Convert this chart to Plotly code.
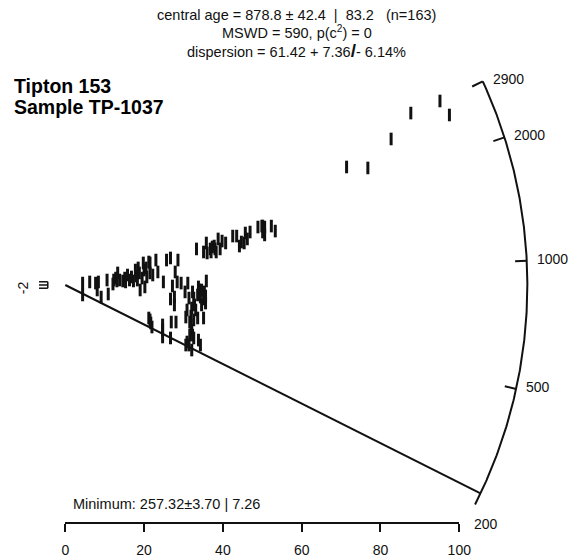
import math
import plotly.graph_objects as go

# ---- Radial plot data: Tipton 153, sample TP-1037 ----
central_age = 878.8
minimum_age = 257.32

# precision (1/sigma) of each grain
precision = [
    4.4, 4.4, 6.2, 7.7, 8.4, 8.1, 9.1, 10.6, 10.9, 12.3, 12.8, 13.3, 13.8, 14.6, 15.1, 15.8, 16.3, 17.3,
    17.8, 18.0, 18.5, 18.3, 19.0, 19.8, 20.0, 20.2, 20.7, 21.2, 21.5, 22.2, 23.0, 23.5, 24.9, 25.7, 26.7,
    27.2, 26.7, 27.7, 27.9, 28.6, 28.4, 29.4, 27.7,
    21.2, 21.7, 22.0, 24.7, 24.7, 26.9, 28.1, 26.7,
    31.1, 32.3, 35.8, 31.4, 32.6, 33.6, 34.3, 35.1, 35.6, 34.6, 30.9, 32.1, 33.1, 30.6, 31.9, 32.6, 33.6,
    35.1, 31.9, 32.1, 31.6, 30.9, 32.6, 33.8, 34.3, 30.6, 32.1, 30.4, 34.1, 35.3,
    33.3, 35.1, 35.8, 36.0, 36.8, 37.3, 37.8, 38.3, 38.8, 39.3, 39.8, 40.7, 42.5, 43.5, 44.2, 44.7, 45.4,
    45.7, 46.2, 46.9, 48.9, 49.9, 50.1, 50.6, 50.6, 52.3, 53.3,
    71.4, 76.8, 82.7, 87.7, 95.1, 97.5,
    13.1, 15.3, 18.8, 19.5, 20.5, 21.5, 33.8, 34.6, 35.6, 32.8, 31.6, 32.3, 31.4, 37.0, 38.0, 50.1, 50.4,
    16.8, 12.1, 24.7, 21.5,
]
# standardised estimate of each grain
std_estimate = [
    1.2, -6.2, 1.9, 1.2, 1.9, -3.1, -7.5, 3.1, -5.6, 3.1, 4.3, 7.5, 3.1, 2.5, 4.3, 6.2, 3.1, 2.5,
    9.3, 5.6, 10.6, 3.1, -3.1, 13.7, 9.3, -1.2, 5.0, 14.3, 7.5, 6.2, 15.5, 8.1, 1.9, 15.5, 16.8,
    -0.6, -8.7, -12.4, 8.1, 15.5, 1.9, 1.2, -7.5,
    -20.5, -23.6, -26.1, -24.8, -32.3, -23.0, -23.0, -32.9,
    1.2, -4.3, 2.5, -8.1, -8.1, -6.2, -7.5, -8.7, -11.2, -12.4, -15.5, -14.3, -15.5, -19.9, -19.3, -21.7, -20.5,
    -20.5, -24.8, -27.9, -31.1, -35.4, -32.9, -34.2, -37.3, -37.3, -40.4, -4.3, -3.1, -4.3,
    22.4, 20.5, 26.1, 19.9, 22.4, 23.6, 24.2, 20.5, 28.6, 22.4, 27.3, 26.1, 30.4, 30.4, 24.2, 26.7, 26.1,
    32.3, 28.6, 32.9, 36.0, 36.6, 32.9, 36.0, 31.1, 36.6, 33.5,
    73.3, 72.7, 90.7, 106.8, 114.3, 105.6,
    2.5, 1.9, 7.5, 4.3, 10.6, 13.7, -1.2, -3.1, -6.8, -12.4, -23.0, -31.1, -37.3, 20.5, 22.4, 36.6, 34.2,
    5.0, 0.6, -27.9, -21.7,
]
assert len(precision) == len(std_estimate)

arc_tick_ages = [200, 500, 1000, 2000, 2900]
arc_age_limits = [237, 2900]
x_tick_values = [0, 20, 40, 60, 80, 100]
y_tick_values = [-2, 0, 2]

NB = "\u00a0"
title_lines = [
    "central age = 878.8 \u00b1 42.4" + NB + " |" + NB + " 83.2" + NB * 2 + " (n=163)",
    "MSWD = 590, p(c<sup>2</sup>) = 0",
    "dispersion = 61.42 + 7.36<span style='font-size:19px'><b>/</b></span>- 6.14%",
]
sample_lines = ["<b>Tipton 153</b>", "<b>Sample TP-1037</b>"]
minimum_label = "Minimum: 257.32\u00b13.70 | 7.26"

# ---- page geometry ----
W, H = 588, 560
ORIGIN_PX = (63, 285)      # where (0, 0) sits on the page
PX_PER_X = 4.05            # horizontal pixels per unit of precision
PX_PER_Y = 1.61            # vertical pixels per unit of standardised estimate
ARC_RADIUS_PX = 475
TICK_LEN_PX = 12
AXIS_Y_PX = 522
FONT = "Liberation Sans, Arial, sans-serif"
INK = "#111111"
CLEAR = "rgba(0,0,0,0)"

x_range = [-ORIGIN_PX[0] / PX_PER_X, (W - ORIGIN_PX[0]) / PX_PER_X]
y_range = [-(H - ORIGIN_PX[1]) / PX_PER_Y, ORIGIN_PX[1] / PX_PER_Y]


def arc_point(age, radius_px=ARC_RADIUS_PX):
    """Point on the (visually circular) age scale for a given age."""
    theta = math.atan(PX_PER_Y / PX_PER_X * math.log(age / central_age))
    return (radius_px * math.cos(theta) / PX_PER_X,
            radius_px * math.sin(theta) / PX_PER_Y)


fig = go.Figure()

# age arc
n_seg = 240
lo, hi = math.log(arc_age_limits[0]), math.log(arc_age_limits[1])
arc = [arc_point(math.exp(lo + (hi - lo) * i / n_seg)) for i in range(n_seg + 1)]
fig.add_trace(go.Scatter(x=[p[0] for p in arc], y=[p[1] for p in arc], mode="lines",
                         line=dict(color=INK, width=2), hoverinfo="skip", showlegend=False))

# arc ticks (pointing inwards) and labels
tx, ty = [], []
for age in arc_tick_ages:
    if arc_age_limits[0] <= age <= arc_age_limits[1]:
        a = arc_point(age, ARC_RADIUS_PX - TICK_LEN_PX)
        b = arc_point(age)
        tx += [a[0], b[0], None]
        ty += [a[1], b[1], None]
    lx, ly = arc_point(age)
    fig.add_annotation(x=lx, y=ly, xref="x", yref="y", text=str(age), showarrow=False,
                       xanchor="left", yanchor="middle", xshift=8, yshift=2,
                       font=dict(family=FONT, size=14, color=INK))
fig.add_trace(go.Scatter(x=tx, y=ty, mode="lines", line=dict(color=INK, width=2),
                         hoverinfo="skip", showlegend=False))

# line to the minimum age
mx, my = arc_point(minimum_age)
fig.add_trace(go.Scatter(x=[0, mx], y=[0, my], mode="lines", line=dict(color=INK, width=2),
                         hoverinfo="skip", showlegend=False))

# grains
fig.add_trace(go.Scatter(x=precision, y=std_estimate, mode="markers",
                         marker=dict(symbol="line-ns", size=9, color=INK,
                                     line=dict(color=INK, width=3)),
                         cliponaxis=False, showlegend=False))

# short standardised-estimate axis (-2 .. 2) left of the origin
yax_x = -18 / PX_PER_X
ytick_len = 9 / PX_PER_X
yx, yy = [yax_x, yax_x, None], [y_tick_values[0], y_tick_values[-1], None]
for v in y_tick_values:
    yx += [yax_x, yax_x - ytick_len, None]
    yy += [v, v, None]
fig.add_trace(go.Scatter(x=yx, y=yy, mode="lines", line=dict(color=INK, width=1.5),
                         hoverinfo="skip", showlegend=False))
fig.add_annotation(x=yax_x - ytick_len, y=y_tick_values[0], xref="x", yref="y",
                   text=str(y_tick_values[0]), textangle=-90, showarrow=False,
                   xanchor="right", yanchor="middle", xshift=-6,
                   font=dict(family=FONT, size=14, color=INK))

# precision axis on its own (transparent) subplot so its line spans exactly 0..100
fig.add_trace(go.Scatter(x=[x_tick_values[0], x_tick_values[-1]], y=[0, 0], xaxis="x2", yaxis="y2",
                         mode="markers", marker=dict(opacity=0), hoverinfo="skip", showlegend=False))

x0p = ORIGIN_PX[0] / W
x1p = (ORIGIN_PX[0] + (x_tick_values[-1] - x_tick_values[0]) * PX_PER_X) / W


# text blocks
def px_to_paper(px, py):
    return px / W, 1 - py / H


for line, py in zip(title_lines, [15, 32, 50]):
    xp, yp = px_to_paper(301, py)
    fig.add_annotation(x=xp, y=yp, xref="paper", yref="paper", text=line, showarrow=False,
                       xanchor="center", yanchor="middle",
                       font=dict(family=FONT, size=14.5, color=INK))

for line, py in zip(sample_lines, [86, 107]):
    xp, yp = px_to_paper(8, py)
    fig.add_annotation(x=xp, y=yp, xref="paper", yref="paper", text=line, showarrow=False,
                       xanchor="left", yanchor="middle",
                       font=dict(family=FONT, size=19.5, color="#000000"))

xp, yp = px_to_paper(69, 504)
fig.add_annotation(x=xp, y=yp, xref="paper", yref="paper", text=minimum_label, showarrow=False,
                   xanchor="left", yanchor="middle",
                   font=dict(family=FONT, size=14.5, color=INK))

fig.update_layout(
    width=W, height=H, autosize=False,
    margin=dict(l=0, r=0, t=0, b=0),
    paper_bgcolor="white", plot_bgcolor=CLEAR,
    xaxis=dict(range=x_range, visible=False, domain=[0, 1]),
    yaxis=dict(range=y_range, visible=False, domain=[0, 1]),
    xaxis2=dict(domain=[x0p, x1p], anchor="y2", range=[x_tick_values[0], x_tick_values[-1]],
                showline=True, linecolor=INK, linewidth=2, showgrid=False, zeroline=False,
                ticks="outside", ticklen=8, tickwidth=2, tickcolor=INK,
                tickvals=x_tick_values, ticktext=[str(v) for v in x_tick_values],
                tickfont=dict(family=FONT, size=14, color=INK), ticklabelstandoff=6),
    yaxis2=dict(domain=[1 - AXIS_Y_PX / H, 1], anchor="x2", range=[0, 1], visible=False),
    showlegend=False,
)

fig.write_html("out.html")
